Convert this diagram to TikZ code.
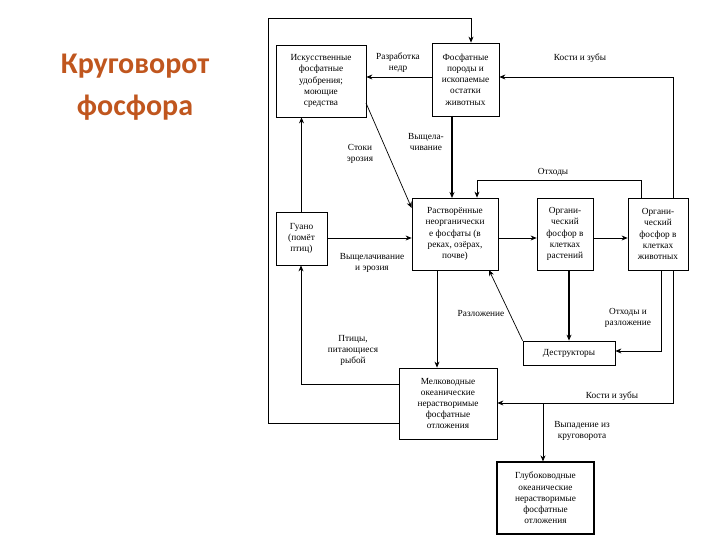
\documentclass[tikz,border=0pt]{standalone}
\usepackage{fontspec}
\setmainfont{Liberation Serif}
\newfontfamily\titlefont{Carlito}
\usetikzlibrary{arrows.meta}
\definecolor{titlec}{HTML}{C0561E}
\begin{document}
\begin{tikzpicture}[x=1pt,y=-1pt,
  box/.style={draw,thick,align=center,inner sep=1pt,font=\fontsize{9.3}{11.2}\selectfont},
  lab/.style={align=center,font=\fontsize{9.3}{11}\selectfont,inner sep=1pt},
  conn/.style={-{Stealth[length=6pt,width=5pt]},line width=0.7pt},
  thk/.style={conn,line width=1.4pt}]
\useasboundingbox (0,0) rectangle (720,540);
\node[text=titlec,font=\titlefont\bfseries\fontsize{30}{42}\selectfont,align=center] (title) at (135,87) {Круговорот\\фосфора};
% boxes
\node[box,minimum width=90pt,minimum height=72pt] (A) at (321,81) {Искусственные\\фосфатные\\удобрения;\\моющие\\средства};
\node[box,minimum width=67pt,minimum height=73pt] (B) at (465.5,79.5) {Фосфатные\\породы и\\ископаемые\\остатки\\животных};
\node[box,minimum width=86pt,minimum height=72pt] (C) at (455,234) {Растворённые\\неорганически\\е фосфаты (в\\реках, озёрах,\\почве)};
\node[box,minimum width=56pt,minimum height=72pt] (D) at (565,234) {Органи-\\ческий\\фосфор в\\клетках\\растений};
\node[box,minimum width=60pt,minimum height=72pt] (E) at (658,234) {Органи-\\ческий\\фосфор в\\клетках\\животных};
\node[box,minimum width=51pt,minimum height=53pt] (F) at (301.5,238.5) {Гуано\\(помёт\\птиц)};
\node[box,minimum width=92pt,minimum height=24pt] (G) at (569,353) {Деструкторы};
\node[box,minimum width=98pt,minimum height=71pt] (H) at (448,403.5) {Мелководные\\океанические\\нерастворимые\\фосфатные\\отложения};
\node[box,minimum width=97pt,minimum height=72pt,line width=1.2pt] (I) at (545.5,498) {Глубоководные\\океанические\\нерастворимые\\фосфатные\\отложения};
% coordinates
\coordinate (t1) at (268,423); \coordinate (t2) at (268,18); \coordinate (t3) at (471,18);
\coordinate (o1) at (641,180); \coordinate (o2) at (477,180);
\coordinate (k1) at (673,77);
\coordinate (w1) at (661,351);
\coordinate (z1) at (673,403); \coordinate (z2) at (543,403);
\coordinate (g1) at (301,384);
\coordinate (dg) at (569,0);
% connectors
\draw[conn] (H.west |- t1) -- (t1) -- (t2) -- (t3) -- (B.north -| t3);
\draw[conn] (B.west |- 0,77) -- (A.east |- 0,77);
\draw[conn] (366,103) -- (C.west |- 0,208);
\draw[thk] (452,116) -- (452,198);
\draw[conn] (E.north -| o1) -- (o1) -- (o2) -- (C.north -| o2);
\draw[conn] (E.north -| k1) -- (k1) -- (B.east |- k1);
\draw[conn] (F.east |- 0,238) -- (C.west |- 0,238);
\draw[conn] (F.north) -- (A.south -| F.north);
\draw[conn] (C.east |- 0,238) -- (D.west |- 0,238);
\draw[conn] (D.east |- 0,238) -- (E.west |- 0,238);
\draw[conn] (C.south -| 437,0) -- (H.north -| 437,0);
\draw[conn] (G.north west) -- (489,270);
\draw[thk] (D.south -| dg) -- (G.north -| dg);
\draw[conn] (E.south -| w1) -- (w1) -- (G.east |- w1);
\draw[conn] (E.south -| z1) -- (z1) -- (H.east |- z1);
\draw[conn] (z2) -- (I.north -| z2);
\draw[conn] (H.west |- g1) -- (g1) -- (F.south -| g1);
% labels
\node[lab] (l1) at (398,63) {Разработка\\недр};
\node[lab] (l2) at (360,154) {Стоки\\эрозия};
\node[lab] (l3) at (426,142) {Выщела-\\чивание};
\node[lab] (l4) at (553,172) {Отходы};
\node[lab] (l5) at (580,58) {Кости и зубы};
\node[lab] (l6) at (372,263) {Выщелачивание\\и эрозия};
\node[lab] (l7) at (481,313) {Разложение};
\node[lab] (l8) at (628,318) {Отходы и\\разложение};
\node[lab] (l9) at (612,396) {Кости и зубы};
\node[lab] (l10) at (582,431) {Выпадение из\\круговорота};
\node[lab] (l11) at (353,350) {Птицы,\\питающиеся\\рыбой};
\end{tikzpicture}
\end{document}
